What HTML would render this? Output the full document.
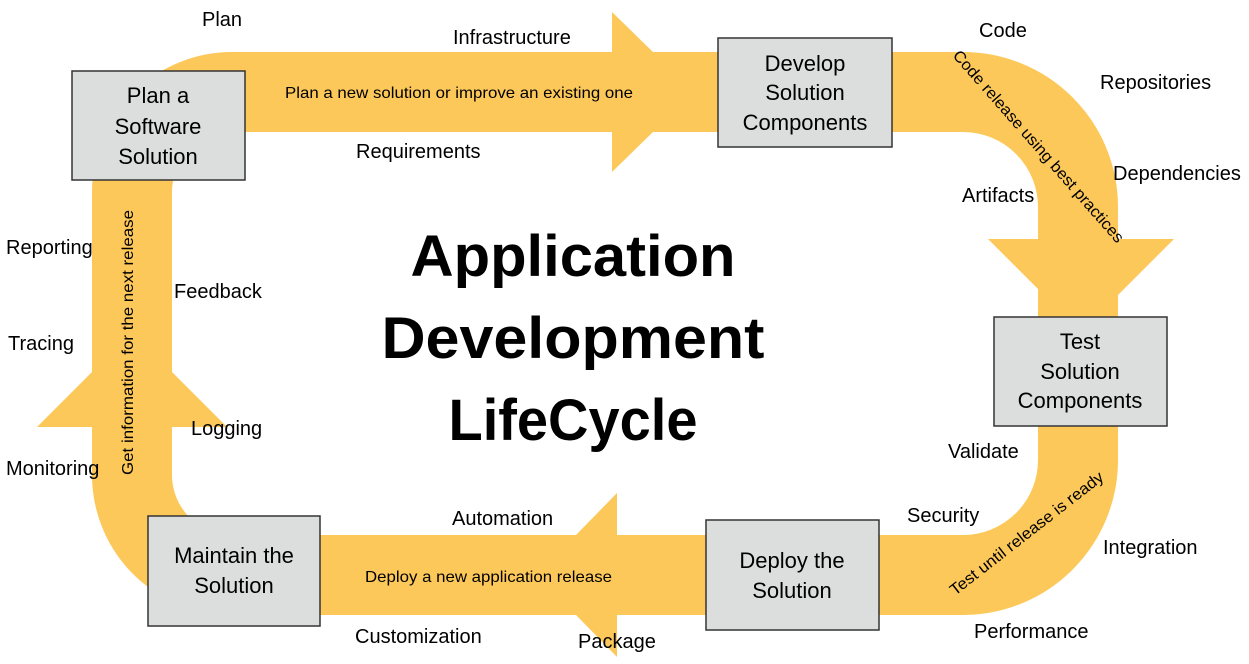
<!DOCTYPE html>
<html><head><meta charset="utf-8"><style>
html,body{margin:0;padding:0;background:#fff;}
svg{display:block;}
text{font-family:"Liberation Sans",Arial,sans-serif;fill:#000;}
</style></head><body>
<svg width="1249" height="664" viewBox="0 0 1249 664" xmlns="http://www.w3.org/2000/svg">
<g fill="#FDC85A">
<path d="M 232 92 H 963 A115 115 0 0 1 1078 207 V 460 A115 115 0 0 1 963 575 H 232 A100 100 0 0 1 132 475 V 192 A100 100 0 0 1 232 92 Z" fill="none" stroke="#FDC85A" stroke-width="80"/>
<polygon points="612,12 694,92 612,172"/>
<polygon points="988,239 1081,332 1174,239"/>
<polygon points="617,493 537,575 617,657"/>
<polygon points="37,427 132,332 227,427"/>
</g>
<g fill="#DCDEDD" stroke="#333" stroke-width="1.5">
<rect x="72" y="71" width="173" height="109"/>
<rect x="718" y="38" width="174" height="109"/>
<rect x="994" y="317" width="173" height="109"/>
<rect x="706" y="520" width="173" height="110"/>
<rect x="148" y="516" width="172" height="110"/>
</g>
<g font-size="22" text-anchor="middle">
<text x="158" y="103">Plan a</text><text x="158" y="134">Software</text><text x="158" y="164">Solution</text>
<text x="805" y="71">Develop</text><text x="805" y="100">Solution</text><text x="805" y="130">Components</text>
<text x="1080" y="349">Test</text><text x="1080" y="379">Solution</text><text x="1080" y="408">Components</text>
<text x="792" y="568">Deploy the</text><text x="792" y="598">Solution</text>
<text x="234" y="563">Maintain the</text><text x="234" y="593">Solution</text>
</g>
<g font-size="20">
<text x="202" y="26">Plan</text>
<text x="453" y="44">Infrastructure</text>
<text x="356" y="158">Requirements</text>
<text x="979" y="37">Code</text>
<text x="1100" y="89">Repositories</text>
<text x="1113" y="180">Dependencies</text>
<text x="962" y="202">Artifacts</text>
<text x="6" y="254">Reporting</text>
<text x="174" y="298">Feedback</text>
<text x="8" y="350">Tracing</text>
<text x="191" y="435">Logging</text>
<text x="6" y="475">Monitoring</text>
<text x="948" y="458">Validate</text>
<text x="907" y="522">Security</text>
<text x="1103" y="554">Integration</text>
<text x="974" y="638">Performance</text>
<text x="452" y="525">Automation</text>
<text x="355" y="643">Customization</text>
<text x="578" y="648">Package</text>
</g>
<g font-size="16">
<text x="285" y="98" textLength="348" lengthAdjust="spacingAndGlyphs">Plan a new solution or improve an existing one</text>
<text x="365" y="582" textLength="247" lengthAdjust="spacingAndGlyphs">Deploy a new application release</text>
<text transform="translate(952,56) rotate(48.7)" textLength="250" lengthAdjust="spacingAndGlyphs">Code release using best practices</text>
<text transform="translate(955,596) rotate(-38)" textLength="190" lengthAdjust="spacingAndGlyphs">Test until release is ready</text>
<text transform="translate(133,475) rotate(-90)" textLength="265" lengthAdjust="spacingAndGlyphs">Get information for the next release</text>
</g>
<g font-size="58" font-weight="bold" text-anchor="middle">
<text x="573" y="276" textLength="325" lengthAdjust="spacingAndGlyphs">Application</text>
<text x="573" y="358" textLength="383" lengthAdjust="spacingAndGlyphs">Development</text>
<text x="573" y="440" textLength="249" lengthAdjust="spacingAndGlyphs">LifeCycle</text>
</g>
</svg>
</body></html>
